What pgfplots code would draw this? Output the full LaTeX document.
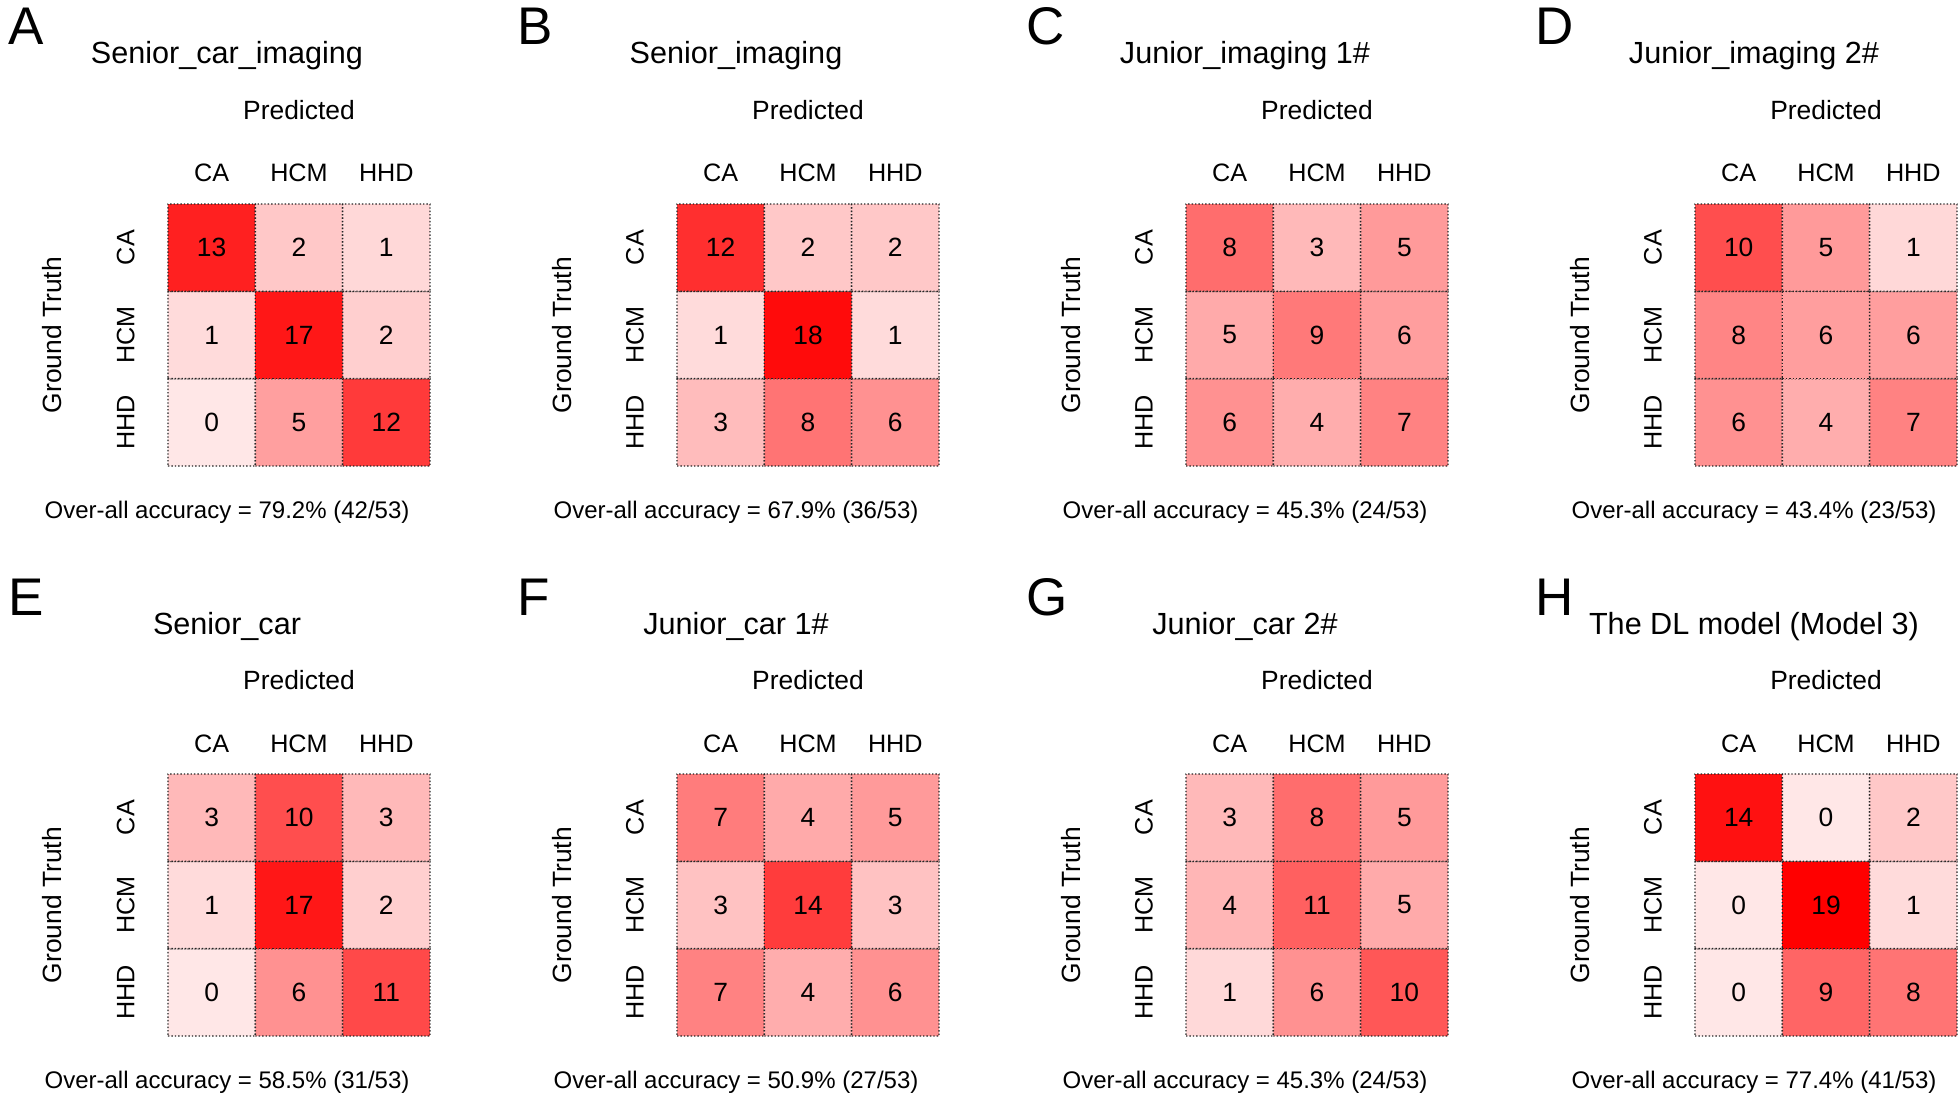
\documentclass[border=0pt]{standalone}
\usepackage{pgfplots}
\pgfplotsset{compat=1.18}
\usepackage{fontspec}
\setmainfont{Liberation Sans}
\newcommand{\fs}[1]{\fontsize{#1pt}{#1pt}\selectfont}

\pgfplotsset{
  cm/.style={
    scale only axis, width=131pt, height=131pt,
    anchor=north west, clip=false,
    xmin=-0.5, xmax=2.5, ymin=-0.5, ymax=2.5,
    axis line style={draw=none}, tick style={draw=none}, major tick length=0pt,
    xtick={0,1,2}, xticklabels={CA,HCM,HHD},
    ytick={0,1,2}, yticklabels={HHD,HCM,CA},
    xticklabel pos=upper,
    xticklabel shift=11pt, yticklabel shift=16.75pt,
    x tick label style={font=\fs{12.6}, anchor=base, inner sep=0pt},
    y tick label style={font=\fs{12.6}, rotate=90, anchor=base, inner sep=0pt},
    colormap={cmred}{rgb255=(255,231,231) rgb255=(255,0,0)},
    point meta min=0, point meta max=0.95,
  },
}

% cell plot + value labels + panel texts
\newcommand{\cmpanel}[5]{%
  % #1 position, #2 letter, #3 title, #4 accuracy, #5 table
  \begin{axis}[cm, at={#1}]
    \addplot[matrix plot*, mesh/cols=3, point meta=explicit,
      draw=black!85, densely dotted, line width=0.7pt]
      table[x=x, y=y, meta=p] {#5};
    \addplot[draw=none, mark=none, nodes near coords,
      point meta=explicit symbolic,
      nodes near coords style={anchor=center, font=\fs{13.2}, text=black}]
      table[x=x, y=y, meta=c] {#5};
    \node[anchor=base west, inner sep=0pt, font=\fs{26.5}]
      at ([xshift=-80pt, yshift=79.5pt]axis description cs:0,1) {#2};
    \node[anchor=base, inner sep=0pt, font=\fs{15.3}]
      at ([xshift=-36pt, yshift=70pt]axis description cs:0.5,1) {#3};
    \node[anchor=base, inner sep=0pt, font=\fs{13.2}]
      at ([yshift=42.5pt]axis description cs:0.5,1) {Predicted};
    \node[anchor=base, rotate=90, inner sep=0pt, font=\fs{13.2}]
      at ([xshift=-53pt]axis description cs:0,0.5) {Ground Truth};
    \node[anchor=base, inner sep=0pt, font=\fs{12}]
      at ([xshift=-36pt, yshift=-26.25pt]axis description cs:0.5,0) {#4};
  \end{axis}}

\pgfplotstableread{
x y c p
0 0 0  0
1 0 5  0.294
2 0 12 0.706
0 1 1  0.05
1 1 17 0.85
2 1 2  0.1
0 2 13 0.8125
1 2 2  0.125
2 2 1  0.0625
}\tA
\pgfplotstableread{
x y c p
0 0 3  0.176
1 0 8  0.471
2 0 6  0.353
0 1 1  0.05
1 1 18 0.9
2 1 1  0.05
0 2 12 0.75
1 2 2  0.125
2 2 2  0.125
}\tB
\pgfplotstableread{
x y c p
0 0 6 0.353
1 0 4 0.235
2 0 7 0.412
0 1 5 0.25
1 1 9 0.45
2 1 6 0.3
0 2 8 0.5
1 2 3 0.1875
2 2 5 0.3125
}\tC
\pgfplotstableread{
x y c p
0 0 6  0.353
1 0 4  0.235
2 0 7  0.412
0 1 8  0.4
1 1 6  0.3
2 1 6  0.3
0 2 10 0.625
1 2 5  0.3125
2 2 1  0.0625
}\tD
\pgfplotstableread{
x y c p
0 0 0  0
1 0 6  0.353
2 0 11 0.647
0 1 1  0.05
1 1 17 0.85
2 1 2  0.1
0 2 3  0.1875
1 2 10 0.625
2 2 3  0.1875
}\tE
\pgfplotstableread{
x y c p
0 0 7  0.412
1 0 4  0.235
2 0 6  0.353
0 1 3  0.15
1 1 14 0.7
2 1 3  0.15
0 2 7  0.4375
1 2 4  0.25
2 2 5  0.3125
}\tF
\pgfplotstableread{
x y c p
0 0 1  0.059
1 0 6  0.353
2 0 10 0.588
0 1 4  0.2
1 1 11 0.55
2 1 5  0.25
0 2 3  0.1875
1 2 8  0.5
2 2 5  0.3125
}\tG
\pgfplotstableread{
x y c p
0 0 0  0
1 0 9  0.529
2 0 8  0.471
0 1 0  0
1 1 19 0.95
2 1 1  0.05
0 2 14 0.875
1 2 0  0
2 2 2  0.125
}\tH

\begin{document}
\begin{tikzpicture}
  \useasboundingbox (0,0) rectangle (980pt,-551pt);
  \cmpanel{(84pt,-102pt)}{A}{Senior\_car\_imaging}{Over-all accuracy = 79.2\% (42/53)}{\tA}
  \cmpanel{(338.5pt,-102pt)}{B}{Senior\_imaging}{Over-all accuracy = 67.9\% (36/53)}{\tB}
  \cmpanel{(593pt,-102pt)}{C}{Junior\_imaging 1\#}{Over-all accuracy = 45.3\% (24/53)}{\tC}
  \cmpanel{(847.5pt,-102pt)}{D}{Junior\_imaging 2\#}{Over-all accuracy = 43.4\% (23/53)}{\tD}
  \cmpanel{(84pt,-387pt)}{E}{Senior\_car}{Over-all accuracy = 58.5\% (31/53)}{\tE}
  \cmpanel{(338.5pt,-387pt)}{F}{Junior\_car 1\#}{Over-all accuracy = 50.9\% (27/53)}{\tF}
  \cmpanel{(593pt,-387pt)}{G}{Junior\_car 2\#}{Over-all accuracy = 45.3\% (24/53)}{\tG}
  \cmpanel{(847.5pt,-387pt)}{H}{The DL model (Model 3)}{Over-all accuracy = 77.4\% (41/53)}{\tH}
\end{tikzpicture}
\end{document}
